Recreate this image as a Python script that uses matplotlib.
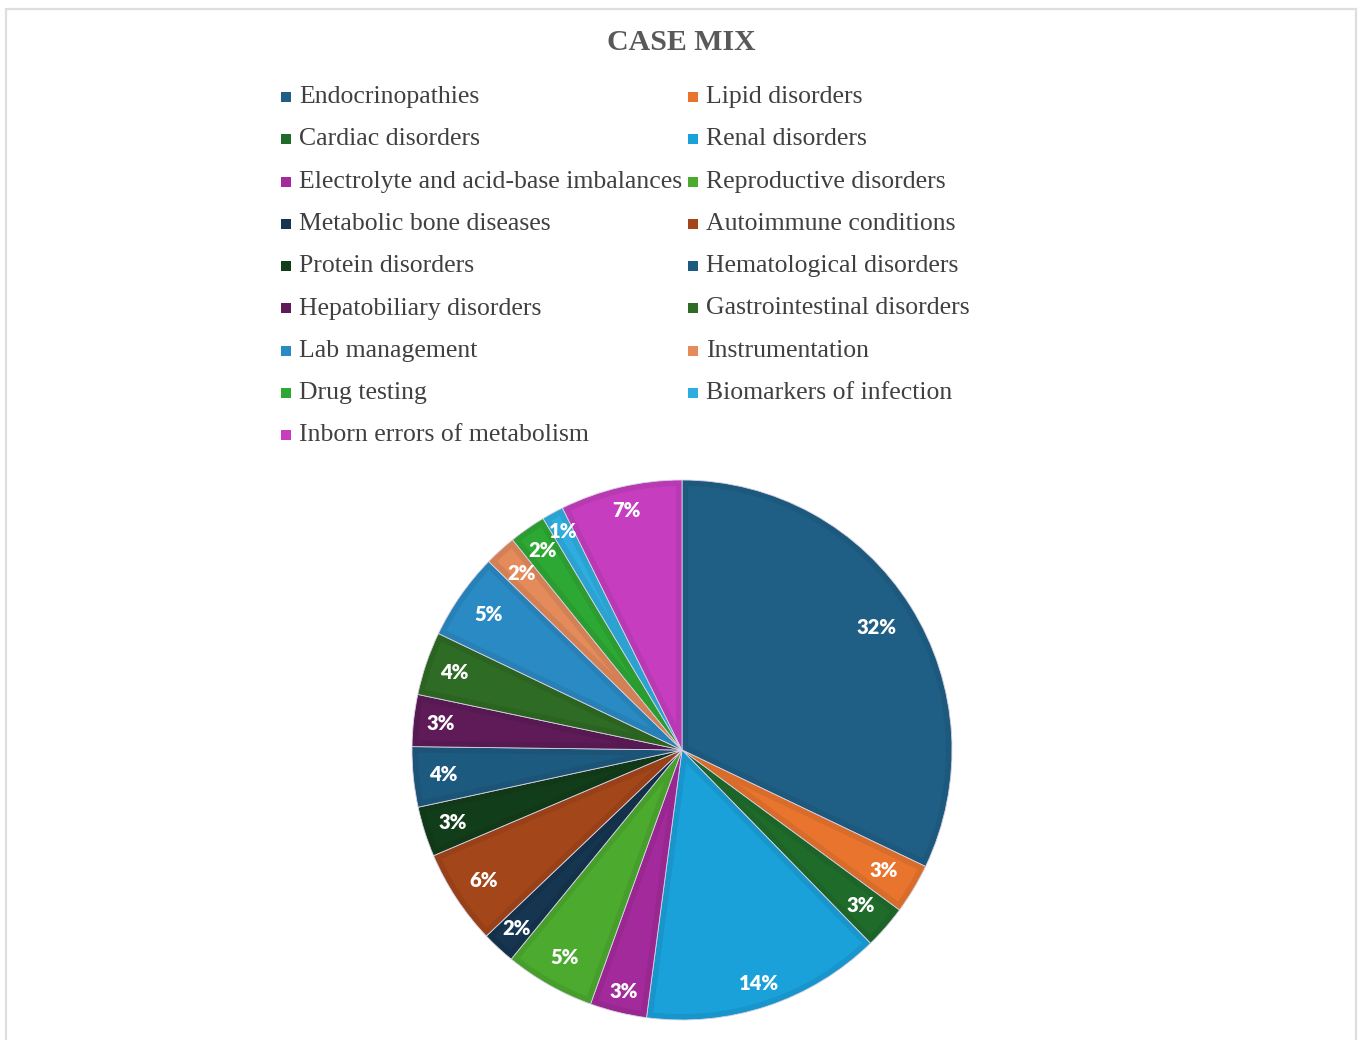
#!/usr/bin/env python3
"""Case mix pie chart"""

import numpy as np
import matplotlib
matplotlib.use("Agg")
import matplotlib.pyplot as plt
from matplotlib.patches import Rectangle, Polygon
from matplotlib.colors import to_rgb

# case categories in legend order, with their share of cases (%)
categories = [
    "Endocrinopathies", "Lipid disorders",
    "Cardiac disorders", "Renal disorders",
    "Electrolyte and acid-base imbalances", "Reproductive disorders",
    "Metabolic bone diseases", "Autoimmune conditions",
    "Protein disorders", "Hematological disorders",
    "Hepatobiliary disorders", "Gastrointestinal disorders",
    "Lab management", "Instrumentation",
    "Drug testing", "Biomarkers of infection",
    "Inborn errors of metabolism",
]
shares = [32.1, 3.0, 2.6, 14.4, 3.4, 5.4, 2.0, 5.7, 3.0, 3.6, 3.1, 3.8,
          5.2, 1.9, 2.2, 1.3, 7.3]
colors = [
    "#1f5f86", "#e8742e",
    "#1e6b2a", "#1aa1da",
    "#a32a9b", "#4cab2e",
    "#163550", "#a3461a",
    "#123d1a", "#1d5a80",
    "#5e1b57", "#2e6b24",
    "#2a8bc4", "#e38b5a",
    "#2ea834", "#2eaee0",
    "#c63ebf",
]
# how far out each percentage label sits (fraction of radius)
label_r = [0.85, 0.87, 0.875, 0.91, 0.92, 0.885, 0.9, 0.88, 0.89,
           0.89, 0.9, 0.89, 0.875, 0.885, 0.9, 0.92, 0.91]

W, H = 1362, 1040
fig = plt.figure(figsize=(W / 100, H / 100), dpi=100)
fig.patch.set_facecolor("white")

# light frame around the chart area
fig.patches.append(Rectangle((6 / W, -0.02), 1350 / W, 1 - 9 / H + 0.02,
                             transform=fig.transFigure, fill=False,
                             edgecolor="#dedede", linewidth=1.6))

fig.text(681 / W, 1 - 42 / H, "CASE MIX", ha="center", va="center",
         family="Liberation Serif", weight="bold", size=21.5, color="#595959")

# two-column legend, filled row by row
row_y0, row_step = 97, 42.3
col_x = [286, 693]
for i, (name, col) in enumerate(zip(categories, colors)):
    r, c = divmod(i, 2)
    y = row_y0 + r * row_step
    fig.patches.append(Rectangle(((col_x[c] - 5) / W, 1 - (y + 5) / H), 10 / W, 10 / H,
                                 transform=fig.transFigure, facecolor=col,
                                 edgecolor="none"))
    fig.text((col_x[c] + 13) / W, 1 - y / H, name, ha="left", va="center",
             family="Liberation Serif", size=18.5, color="#404040")

# pie centred at (682, 750) px, radius 270 px
cx, cy, rad = 682, 750, 270
ax = fig.add_axes([(cx - rad) / W, (H - cy - rad) / H, 2 * rad / W, 2 * rad / H])


def darker(c, f=0.93):
    return tuple(v * f for v in to_rgb(c))


wedges, texts, autotexts = ax.pie(
    shares, colors=[darker(c) for c in colors], startangle=90, counterclock=False,
    autopct="%.0f%%",
    wedgeprops=dict(edgecolor="#d9d2e6", linewidth=0.6),
    textprops=dict(color="white", family="Lato", weight="heavy", size=14.5),
)

# lighter inset on each slice gives the bevelled look
inset = 6 / rad
for w, col, at, lr in zip(wedges, colors, autotexts, label_r):
    t1, t2 = np.radians(w.theta1), np.radians(w.theta2)
    half = (t2 - t1) / 2
    mid = t1 + half
    at.set_position((lr * np.cos(mid), lr * np.sin(mid)))
    at.set_zorder(3)
    apex = inset / np.sin(half)
    ro = 1 - inset
    if apex >= ro:
        continue
    d = np.arctan(inset / np.sqrt(ro ** 2 - inset ** 2))
    arc = np.linspace(t1 + d, t2 - d, 60)
    pts = [(apex * np.cos(mid), apex * np.sin(mid))]
    pts += list(zip(ro * np.cos(arc), ro * np.sin(arc)))
    ax.add_patch(Polygon(pts, closed=True, facecolor=col, edgecolor="none", zorder=1.5))

ax.set_xlim(-1, 1)
ax.set_ylim(-1, 1)
ax.set_aspect("equal")
ax.axis("off")

fig.savefig("out.png", dpi=100)
